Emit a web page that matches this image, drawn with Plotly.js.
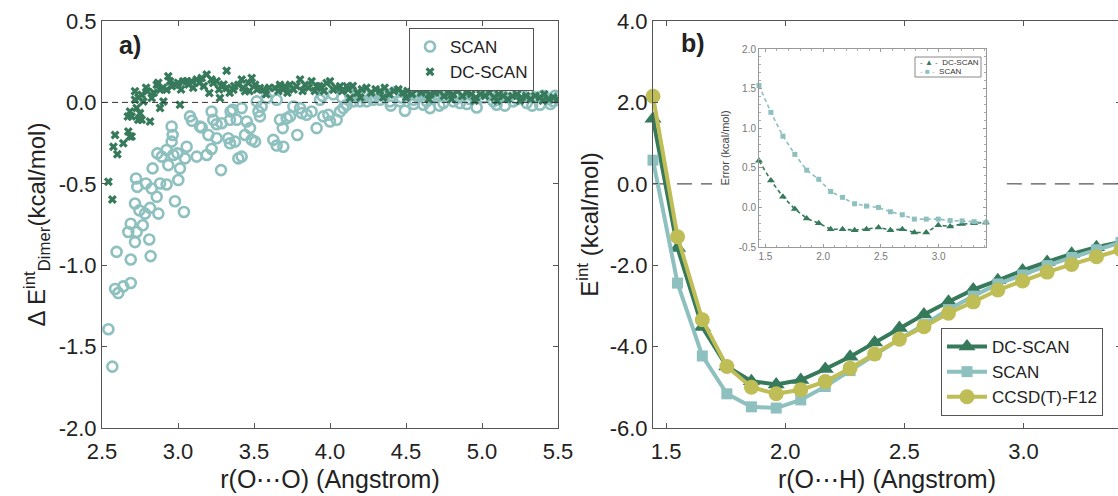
<!DOCTYPE html>
<html>
<head>
<meta charset="utf-8">
<script src="https://cdn.plot.ly/plotly-3.0.1.min.js"></script>
<style>
html,body{margin:0;padding:0;overflow:hidden;background:#fff;}
#chart{width:1130px;height:496px;}
</style>
</head>
<body>
<div id="chart"></div>
<script>
// ---------- Panel a) : scatter of interaction-energy errors ----------
const scanR = [2.542,2.568,2.586,2.596,2.607,2.640,2.673,2.689,2.689,2.689,2.717,2.717,2.724,2.728,2.732,2.746,2.768,2.783,2.789,2.811,2.816,2.820,2.827,2.833,2.860,2.864,2.871,2.882,2.893,2.925,2.925,2.936,2.958,2.958,2.965,2.969,2.980,2.996,3.002,3.013,3.039,3.046,3.057,3.079,3.092,3.123,3.145,3.156,3.189,3.200,3.221,3.221,3.232,3.254,3.254,3.283,3.287,3.331,3.342,3.342,3.346,3.360,3.375,3.386,3.397,3.419,3.419,3.441,3.452,3.474,3.485,3.507,3.518,3.529,3.539,3.550,3.583,3.627,3.649,3.649,3.671,3.689,3.693,3.715,3.737,3.759,3.785,3.803,3.814,3.846,3.879,3.912,3.934,3.956,3.989,4.000,4.044,4.066,4.088,4.110,4.154,4.197,4.241,4.285,4.329,4.395,4.461,4.493,4.548,4.614,4.636,4.658,4.746,4.811,4.855,4.965,5.075,5.096,5.206,5.294,5.382,5.469,
3.95,4.02,4.08,4.13,4.18,4.22,4.27,4.31,4.36,4.42,4.47,4.52,4.57,4.61,4.66,4.70,4.75,4.79,4.84,4.88,4.92,4.97,5.01,5.05,5.10,5.14,5.18,5.23,5.27,5.31,5.35,5.40,5.44,5.48,5.50,4.40,4.55,4.72,4.90,5.15,5.33,5.45];
const scanE = [-1.393,-1.623,-1.146,-0.918,-1.171,-1.130,-0.796,-0.745,-0.965,-1.109,-0.621,-0.858,-0.467,-0.796,-0.519,-0.663,-0.755,-0.683,-0.498,-0.842,-0.648,-0.944,-0.529,-0.405,-0.580,-0.313,-0.683,-0.498,-0.333,-0.504,-0.292,-0.385,-0.241,-0.148,-0.200,-0.323,-0.607,-0.313,-0.477,-0.405,-0.673,-0.344,-0.272,-0.086,-0.113,-0.333,-0.148,-0.154,-0.323,-0.200,-0.286,-0.056,-0.107,-0.220,-0.134,-0.416,-0.128,-0.220,-0.251,-0.107,-0.056,-0.045,-0.241,-0.107,-0.344,-0.333,-0.035,-0.200,-0.117,-0.158,-0.230,-0.241,0.006,-0.056,-0.086,-0.025,0.027,-0.230,0.016,-0.265,-0.107,-0.158,-0.272,-0.097,-0.086,-0.025,-0.200,-0.035,-0.066,-0.076,-0.056,-0.158,0.016,-0.086,-0.076,-0.117,-0.107,-0.056,-0.035,-0.014,0.006,0.006,0.006,0.016,0.016,0.006,0.006,-0.051,0.016,-0.014,0.006,-0.035,-0.004,0.006,-0.004,-0.031,0.006,-0.014,0.006,-0.004,-0.014,0.006,
0.04,0.05,0.03,0.05,0.04,0.06,0.03,0.05,0.04,0.06,0.03,0.05,0.04,0.06,0.03,0.05,0.04,0.07,0.03,0.05,0.02,0.05,0.03,0.06,0.02,0.04,0.05,0.02,0.04,0.05,0.03,0.04,0.02,0.04,0.03,-0.02,-0.01,-0.02,-0.01,-0.02,-0.02,-0.01];

const dcR = [2.542,2.568,2.575,2.586,2.601,2.640,2.670,2.673,2.684,2.684,2.695,2.695,2.717,2.717,2.728,2.739,2.750,2.761,2.761,2.772,2.798,2.816,2.827,2.860,2.882,2.882,2.904,2.925,2.936,2.947,2.980,3.013,3.035,3.057,3.090,3.123,3.156,3.189,3.206,3.232,3.254,3.276,3.287,3.320,3.320,3.364,3.397,3.419,3.441,3.463,3.485,3.507,3.539,3.561,3.638,3.671,3.704,3.737,3.803,3.836,3.879,3.912,3.945,3.978,4.000,4.022,4.066,4.110,4.132,
2.74,2.79,2.84,2.87,2.90,2.96,3.00,3.02,3.07,3.10,3.14,3.17,3.22,3.27,3.30,3.34,3.37,3.43,3.47,3.52,3.58,3.60,3.66,3.69,3.72,3.76,3.78,3.82,3.86,3.90,3.93,3.96,
4.04,4.08,4.12,4.15,4.18,4.21,4.24,4.27,4.30,4.33,4.36,4.39,4.42,4.45,4.48,4.51,4.54,4.57,4.60,4.63,4.66,4.69,4.72,4.75,4.78,4.81,4.84,4.87,4.90,4.93,4.96,4.99,5.02,5.05,5.08,5.11,5.14,5.17,5.20,5.23,5.26,5.29,5.32,5.35,5.38,5.41,5.44,5.47,5.50,4.20,4.35,4.50,4.65,4.80,4.95,5.10,5.25,5.40];
const dcE = [-0.488,-0.597,-0.272,-0.200,-0.319,-0.251,-0.086,-0.179,-0.056,-0.210,-0.210,-0.086,0.016,0.068,-0.035,-0.107,-0.066,-0.107,0.047,0.006,0.068,-0.117,0.027,0.109,0.078,-0.035,0.006,0.078,0.160,0.130,0.109,-0.014,0.130,0.130,0.130,0.140,0.150,0.171,0.058,0.119,0.130,0.027,0.099,0.195,0.088,0.078,0.109,0.140,0.068,0.119,0.150,0.109,0.088,0.078,0.088,0.109,0.099,0.109,0.140,0.109,0.130,0.099,0.088,0.119,0.130,0.078,0.099,0.099,0.027,
0.03,0.09,0.06,0.12,0.09,0.10,0.12,0.08,0.11,0.09,0.12,0.10,0.14,0.08,0.11,0.06,0.10,0.09,0.07,0.08,0.05,0.09,0.07,0.08,0.06,0.08,0.10,0.07,0.09,0.07,0.10,0.07,
0.09,0.07,0.08,0.10,0.06,0.08,0.09,0.06,0.08,0.07,0.09,0.05,0.07,0.08,0.06,0.07,0.05,0.08,0.06,0.07,0.05,0.06,0.07,0.04,0.06,0.05,0.07,0.04,0.06,0.05,0.03,0.05,0.04,0.06,0.03,0.05,0.04,0.02,0.04,0.05,0.03,0.04,0.02,0.04,0.03,0.05,0.02,0.03,0.02,0.03,0.03,0.03,0.02,0.02,0.01,0.01,0.01,0.01];

// ---------- Panel b) : dimer curves ----------
const rOH = [1.445,1.548,1.652,1.755,1.858,1.962,2.065,2.168,2.272,2.375,2.479,2.582,2.685,2.789,2.892,2.996,3.099,3.202,3.306,3.409];
const eDC   = [1.60,-1.58,-3.52,-4.49,-4.85,-4.93,-4.82,-4.55,-4.25,-3.90,-3.54,-3.21,-2.90,-2.60,-2.37,-2.13,-1.92,-1.72,-1.56,-1.43];
const eSCAN = [0.58,-2.44,-4.23,-5.16,-5.48,-5.51,-5.31,-4.98,-4.59,-4.20,-3.82,-3.46,-3.09,-2.76,-2.46,-2.24,-2.01,-1.81,-1.62,-1.44];
const eCC   = [2.15,-1.30,-3.34,-4.49,-5.00,-5.16,-5.06,-4.86,-4.53,-4.18,-3.82,-3.51,-3.18,-2.90,-2.61,-2.39,-2.17,-1.98,-1.79,-1.62];
// inset: error (kcal/mol)
const errDC   = [0.59,0.34,0.135,-0.02,-0.14,-0.20,-0.275,-0.275,-0.287,-0.275,-0.253,-0.287,-0.275,-0.317,-0.317,-0.224,-0.24,-0.21,-0.20,-0.19];
const errSCAN = [1.54,1.20,0.90,0.67,0.47,0.355,0.20,0.127,0.046,0.017,0.0,-0.055,-0.093,-0.148,-0.148,-0.148,-0.165,-0.17,-0.18,-0.19];

// tick labels
const xTicksA = [2.5,3.0,3.5,4.0,4.5,5.0,5.5];
const xLabelsA = ['2.5','3.0','3.5','4.0','4.5','5.0','5.5'];
const yTicksA = [-2.0,-1.5,-1.0,-0.5,0.0,0.5];
const yLabelsA = ['-2.0','-1.5','-1.0','-0.5','0.0','0.5'];
const xTicksB = [1.5,2.0,2.5,3.0];
const xLabelsB = ['1.5','2.0','2.5','3.0'];
const yTicksB = [-6,-4,-2,0,2,4];
const yLabelsB = ['-6.0','-4.0','-2.0','0.0','2.0','4.0'];
const yTicksIn = [-0.5,0,0.5,1.0,1.5,2.0];
const yLabelsIn = ['-0.5','0.0','0.5','1.0','1.5','2.0'];

const cDC = '#367a5b', cSCAN = '#8dc0bf', cCC = '#bfbd55';
const W = 1130, H = 496;
const px = v => v / W, py = v => 1 - v / H;
const FONT = 'Liberation Sans, Arial, Helvetica, sans-serif';
const TICKFONT = {size: 22, color: '#222', family: FONT};

const traces = [
  {x: scanR, y: scanE, type: 'scatter', mode: 'markers', name: 'SCAN', xaxis: 'x', yaxis: 'y', legend: 'legend',
   marker: {symbol: 'circle-open', size: 10, color: cSCAN, line: {width: 2.6, color: cSCAN}}},
  {x: dcR, y: dcE, type: 'scatter', mode: 'markers', name: 'DC-SCAN', xaxis: 'x', yaxis: 'y', legend: 'legend',
   marker: {symbol: 'x', size: 8, color: cDC, line: {width: 0}}},
  {x: rOH, y: eDC, type: 'scatter', mode: 'lines+markers', name: 'DC-SCAN', xaxis: 'x2', yaxis: 'y2', legend: 'legend2', cliponaxis: false,
   line: {color: cDC, width: 4}, marker: {symbol: 'triangle-up', size: 15, color: cDC}},
  {x: rOH, y: eSCAN, type: 'scatter', mode: 'lines+markers', name: 'SCAN', xaxis: 'x2', yaxis: 'y2', legend: 'legend2', cliponaxis: false,
   line: {color: cSCAN, width: 4}, marker: {symbol: 'square', size: 11, color: cSCAN}},
  {x: rOH, y: eCC, type: 'scatter', mode: 'lines+markers', name: 'CCSD(T)-F12', xaxis: 'x2', yaxis: 'y2', legend: 'legend2', cliponaxis: false,
   line: {color: cCC, width: 4}, marker: {symbol: 'circle', size: 15, color: cCC}},
  {x: rOH, y: errDC, type: 'scatter', mode: 'lines+markers', name: 'DC-SCAN', xaxis: 'x3', yaxis: 'y3', showlegend: false, cliponaxis: false,
   line: {color: cDC, width: 1.6, dash: '4px,3px'}, marker: {symbol: 'triangle-up', size: 7, color: cDC}},
  {x: rOH, y: errSCAN, type: 'scatter', mode: 'lines+markers', name: 'SCAN', xaxis: 'x3', yaxis: 'y3', showlegend: false, cliponaxis: false,
   line: {color: cSCAN, width: 1.6, dash: '4px,3px'}, marker: {symbol: 'square', size: 5, color: cSCAN}}
];

function mainAxis(extra) {
  return Object.assign({showline: true, linecolor: '#555', linewidth: 1, mirror: 'ticks', ticks: 'inside', ticklen: 5,
    tickcolor: '#555', showgrid: false, zeroline: false, tickfont: TICKFONT}, extra);
}
function insetAxis(extra) {
  return Object.assign({showline: true, linecolor: '#999', linewidth: 1, mirror: 'ticks', ticks: 'inside', ticklen: 3,
    tickcolor: '#999', showgrid: false, zeroline: false, tickfont: {size: 10, color: '#777', family: FONT},
    minor: {ticks: 'inside', ticklen: 2, tickcolor: '#aaa', dtick: 0.1}}, extra);
}

const layout = {
  width: W, height: H,
  margin: {l: 0, r: 0, t: 0, b: 0},
  paper_bgcolor: '#fff', plot_bgcolor: '#fff',
  font: {family: FONT, color: '#222'},
  showlegend: true,
  xaxis: mainAxis({domain: [px(102), px(558)], range: [2.5, 5.5], anchor: 'y',
    tickvals: xTicksA, ticktext: xLabelsA, ticklabelstandoff: 4,
    title: {text: 'r(O\u22efO) (Angstrom)', font: {size: 25, color: '#222'}, standoff: 7}}),
  yaxis: mainAxis({domain: [py(428), py(21)], range: [-2.0, 0.5], anchor: 'x',
    tickvals: yTicksA, ticktext: yLabelsA,
    title: {text: '\u0394 E<sup>int</sup><sub>Dimer</sub>(kcal/mol)', font: {size: 24, color: '#222'}, standoff: 6}}),
  xaxis2: mainAxis({domain: [px(653), px(1121)], range: [rOH[0], rOH[rOH.length - 1]], anchor: 'y2',
    tickvals: xTicksB, ticktext: xLabelsB, ticklabelstandoff: 4,
    title: {text: 'r(O\u22efH) (Angstrom)', font: {size: 25, color: '#222'}, standoff: 7}}),
  yaxis2: mainAxis({domain: [py(428), py(21)], range: [-6, 4], anchor: 'x2',
    tickvals: yTicksB, ticktext: yLabelsB,
    title: {text: 'E<sup>int</sup> (kcal/mol)', font: {size: 24, color: '#222'}, standoff: 4}}),
  xaxis3: insetAxis({domain: [px(759), px(986)], range: [rOH[0], rOH[rOH.length - 1]], anchor: 'y3',
    tickvals: xTicksB, ticktext: xLabelsB}),
  yaxis3: insetAxis({domain: [py(247), py(49)], range: [-0.5, 2.0], anchor: 'x3',
    tickvals: yTicksIn, ticktext: yLabelsIn,
    title: {text: 'Error (kcal/mol)', font: {size: 11, color: '#444'}, standoff: 6}}),
  legend: {x: px(409), y: py(28), xanchor: 'left', yanchor: 'top', bgcolor: '#fff', bordercolor: '#555', borderwidth: 1,
    font: {size: 17, color: '#222'}, itemsizing: 'trace', tracegroupgap: 0},
  legend2: {x: px(941), y: py(328), xanchor: 'left', yanchor: 'top', bgcolor: '#fff', bordercolor: '#555', borderwidth: 1,
    font: {size: 17, color: '#222'}, itemsizing: 'trace', itemwidth: 40, tracegroupgap: 0},
  shapes: [
    {type: 'line', xref: 'x', yref: 'y', x0: 2.5, x1: 5.5, y0: 0, y1: 0, layer: 'above',
     line: {color: '#333', width: 1, dash: '6px,4px'}},
    {type: 'line', xref: 'x2', yref: 'y2', x0: rOH[0], x1: 1.693, y0: 0, y1: 0, layer: 'below',
     line: {color: '#555', width: 1.2, dash: '15px,9px'}},
    {type: 'line', xref: 'x2', yref: 'y2', x0: 2.93, x1: rOH[rOH.length - 1], y0: 0, y1: 0, layer: 'below',
     line: {color: '#555', width: 1.2, dash: '15px,9px'}},
    {type: 'rect', xref: 'paper', yref: 'paper', x0: px(915), x1: px(981), y0: py(77), y1: py(57), layer: 'above',
     fillcolor: 'rgba(255,255,255,0)', line: {color: '#888', width: 1}}
  ],
  annotations: [
    {text: '<b>a)</b>', xref: 'paper', yref: 'paper', x: px(117), y: py(45), xanchor: 'left', yanchor: 'middle',
     showarrow: false, font: {size: 25, color: '#222'}},
    {text: '<b>b)</b>', xref: 'paper', yref: 'paper', x: px(679), y: py(43), xanchor: 'left', yanchor: 'middle',
     showarrow: false, font: {size: 25, color: '#222'}},
    {text: '<span style="color:' + cDC + '">- \u25b2 -</span>  DC-SCAN', xref: 'paper', yref: 'paper',
     x: px(918), y: py(62.5), xanchor: 'left', yanchor: 'middle', showarrow: false, font: {size: 8, color: '#333'}},
    {text: '<span style="color:' + cSCAN + '">- \u25a0 -</span>  SCAN', xref: 'paper', yref: 'paper',
     x: px(918), y: py(71.5), xanchor: 'left', yanchor: 'middle', showarrow: false, font: {size: 8, color: '#333'}}
  ]
};

Plotly.newPlot('chart', traces, layout, {displayModeBar: false, staticPlot: true});
</script>
</body>
</html>
